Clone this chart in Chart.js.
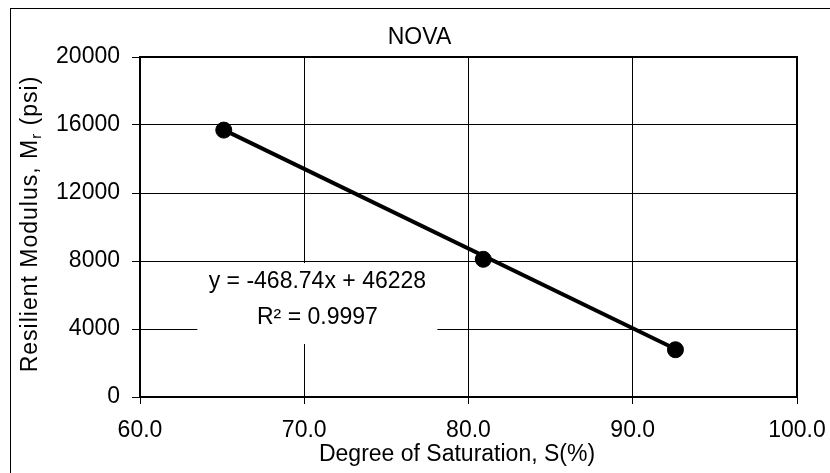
<!DOCTYPE html>
<html>
<head>
<meta charset="utf-8">
<script src="https://cdn.jsdelivr.net/npm/chart.js@4"></script>
<style>
  html, body { margin: 0; padding: 0; background: #fff; }
</style>
</head>
<body>
<canvas id="chart" width="830" height="473"></canvas>
<script>
// values
const saturation = [65.1, 80.9, 92.6];
const modulus = [15700, 8100, 2780];
// trendline end points (from the equation shown)
const trendX = [65.1, 92.6];
const trendY = [15713, 2823];
const xTicks = [60, 70, 80, 90, 100];
const yTicks = [0, 4000, 8000, 12000, 16000, 20000];

const chartTitle = 'NOVA';
const xTitle = 'Degree of Saturation, S(%)';
const yTitleParts = ['Resilient Modulus, M', 'r', ' (psi)'];
const equationText = 'y = -468.74x + 46228';
const rSquaredText = 'R² = 0.9997';

const FONT = "'Liberation Sans', Arial, sans-serif";
Chart.defaults.font.family = FONT;
Chart.defaults.font.size = 23;
Chart.defaults.color = '#000';

// frame, outer border, equation box and the axis titles
const decorations = {
  id: 'decorations',
  beforeDraw(chart) {
    const ctx = chart.ctx;
    ctx.save();
    ctx.fillStyle = '#fff';
    ctx.fillRect(0, 0, chart.width, chart.height);
    ctx.strokeStyle = '#000';
    ctx.lineWidth = 1;
    ctx.strokeRect(10.5, 8.5, chart.width + 10, chart.height + 10);
    ctx.restore();
  },
  afterDatasetsDraw(chart) {
    const { ctx, chartArea: a, scales: { x, y } } = chart;
    ctx.save();

    // equation label on white background
    const cx = x.getPixelForValue(70.8);
    const top = y.getPixelForValue(7880);
    const bottom = y.getPixelForValue(3120);
    ctx.fillStyle = '#fff';
    ctx.fillRect(cx - 120, top, 240, bottom - top);
    ctx.fillStyle = '#000';
    ctx.font = '23px ' + FONT;
    ctx.textAlign = 'center';
    ctx.textBaseline = 'middle';
    ctx.fillText(equationText, cx, top + 19);
    ctx.fillText(rSquaredText, cx, top + 55);

    // plot frame
    ctx.strokeStyle = '#000';
    ctx.lineWidth = 2;
    ctx.strokeRect(a.left, a.top, a.right - a.left, a.bottom - a.top);

    // x title (sits a little left of the plot centre in the original)
    ctx.fillText(xTitle, x.getPixelForValue(79.3), 455);

    // rotated y title with subscript
    ctx.translate(31, (a.top + a.bottom) / 2 - 3);
    ctx.rotate(-Math.PI / 2);
    ctx.textAlign = 'left';
    ctx.letterSpacing = '1px';
    const big = '23px ' + FONT, small = '15px ' + FONT;
    ctx.font = big;
    const w1 = ctx.measureText(yTitleParts[0]).width;
    const w3 = ctx.measureText(yTitleParts[2]).width;
    ctx.font = small;
    const w2 = ctx.measureText(yTitleParts[1]).width;
    let px = -(w1 + w2 + w3) / 2;
    ctx.font = big;
    ctx.fillText(yTitleParts[0], px, 0);
    px += w1;
    ctx.font = small;
    ctx.fillText(yTitleParts[1], px, 6);
    px += w2;
    ctx.font = big;
    ctx.fillText(yTitleParts[2], px, 0);
    ctx.restore();
  }
};

new Chart(document.getElementById('chart'), {
  type: 'scatter',
  data: {
    datasets: [
      {
        label: 'Data',
        data: saturation.map((s, i) => ({ x: s, y: modulus[i] })),
        backgroundColor: '#000',
        borderColor: '#000',
        pointRadius: 8,
        pointHoverRadius: 8
      },
      {
        label: 'Trend',
        type: 'line',
        data: trendX.map((s, i) => ({ x: s, y: trendY[i] })),
        borderColor: '#000',
        borderWidth: 4,
        pointRadius: 0,
        fill: false
      }
    ]
  },
  options: {
    responsive: false,
    animation: false,
    layout: { padding: { left: 42, right: 33, top: 0, bottom: 0 } },
    plugins: {
      legend: { display: false },
      tooltip: { enabled: false },
      title: {
        display: true,
        text: chartTitle,
        font: { size: 23, weight: 'normal' },
        color: '#000',
        padding: { top: 24, bottom: 5.4 }
      }
    },
    scales: {
      x: {
        type: 'linear',
        min: xTicks[0],
        max: xTicks[xTicks.length - 1],
        afterBuildTicks: s => { s.ticks = xTicks.map(v => ({ value: v })); },
        afterFit: s => { s.height = 76; s.paddingLeft = 0; s.paddingRight = 0; },
        ticks: { padding: 13, maxRotation: 0, callback: v => Number(v).toFixed(1) },
        grid: { color: '#000', lineWidth: 1, tickLength: 7 },
        border: { display: false }
      },
      y: {
        type: 'linear',
        min: yTicks[0],
        max: yTicks[yTicks.length - 1],
        afterBuildTicks: s => { s.ticks = yTicks.map(v => ({ value: v })); },
        afterFit: s => { s.width = 98; s.paddingTop = 0; s.paddingBottom = 0; },
        ticks: { padding: 12, callback: v => String(v) },
        grid: { color: '#000', lineWidth: 1, tickLength: 8 },
        border: { display: false }
      }
    }
  },
  plugins: [decorations]
});
</script>
</body>
</html>
